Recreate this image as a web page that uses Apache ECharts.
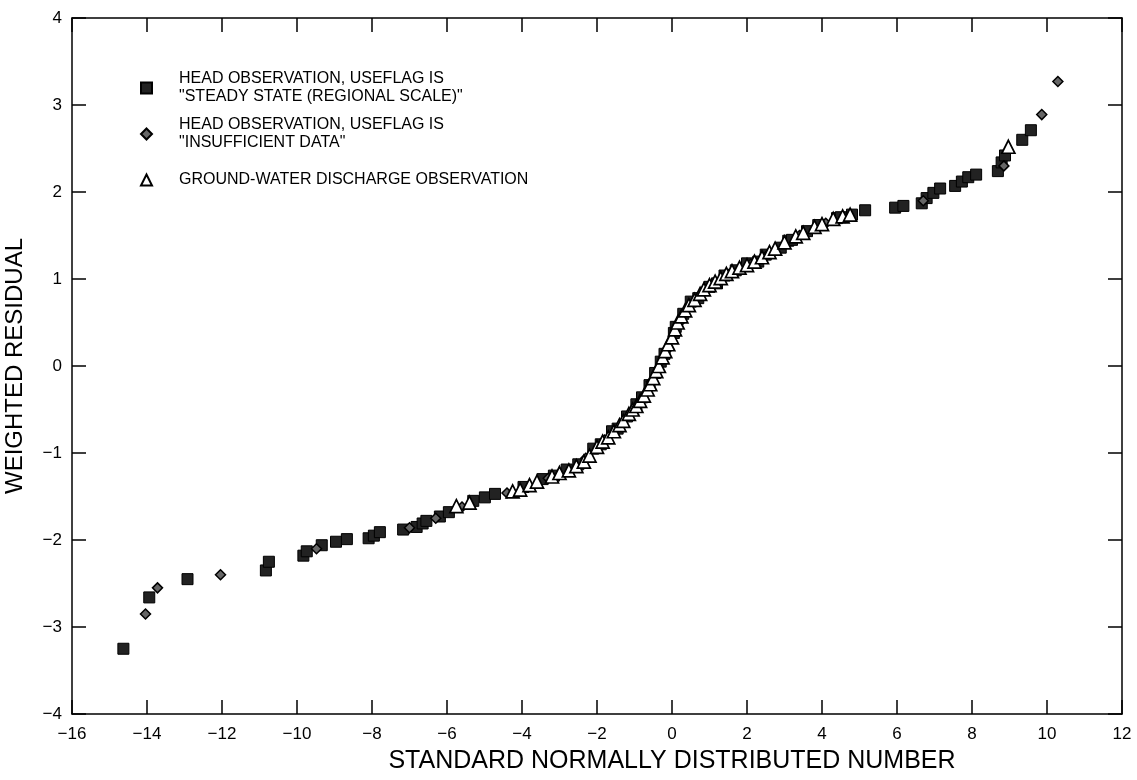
<!DOCTYPE html>
<html>
<head>
<meta charset="utf-8">
<title>Weighted residual vs standard normally distributed number</title>
<script src="https://cdn.jsdelivr.net/npm/echarts@6/dist/echarts.min.js"></script>
<style>
    html, body { margin: 0; padding: 0; background: #fff; }
    #chart { width: 1137px; height: 780px; }
</style>
</head>
<body>
<div id="chart"></div>
<script>
// 数据：估计值 [标准正态数, 加权残差]
var steadyState = [
    [-14.63, -3.25], [-13.94, -2.66], [-12.92, -2.45], [-10.83, -2.35], [-10.75, -2.25],
    [-9.83, -2.18], [-9.74, -2.13], [-9.34, -2.06], [-8.96, -2.02], [-8.67, -1.99],
    [-8.09, -1.98], [-7.95, -1.95], [-7.79, -1.91], [-7.17, -1.88], [-6.81, -1.85],
    [-6.65, -1.81], [-6.55, -1.78], [-6.19, -1.73], [-5.95, -1.68], [-5.30, -1.55],
    [-4.99, -1.51], [-4.72, -1.47], [-3.96, -1.39], [-3.45, -1.30], [-3.15, -1.26],
    [-2.81, -1.19], [-2.50, -1.13], [-2.10, -0.95], [-1.90, -0.90], [-1.60, -0.75],
    [-1.45, -0.72], [-1.20, -0.58], [-0.95, -0.44], [-0.80, -0.36], [-0.60, -0.22],
    [-0.45, -0.08], [-0.30, 0.05], [-0.20, 0.14], [0.05, 0.38], [0.10, 0.45],
    [0.30, 0.60], [0.50, 0.74], [0.70, 0.78], [1.00, 0.91], [1.20, 0.95],
    [1.40, 1.04], [1.70, 1.10], [2.00, 1.18], [2.30, 1.20], [2.50, 1.28],
    [2.90, 1.36], [3.10, 1.44], [3.20, 1.45], [3.60, 1.55], [3.90, 1.62],
    [4.40, 1.70], [4.50, 1.71], [4.80, 1.74], [5.15, 1.79], [5.95, 1.82],
    [6.17, 1.84], [6.66, 1.87], [6.79, 1.93], [6.97, 1.99], [7.15, 2.04],
    [7.55, 2.07], [7.73, 2.12], [7.90, 2.17], [8.11, 2.20], [8.69, 2.24],
    [8.79, 2.34], [8.88, 2.42], [9.34, 2.60], [9.57, 2.71]
];
var insufficientData = [
    [-14.04, -2.85], [-13.72, -2.55], [-12.04, -2.40], [-9.48, -2.10], [-7.00, -1.86],
    [-6.30, -1.75], [-5.60, -1.62], [-4.40, -1.46], [-3.30, -1.29], [-2.30, -1.06],
    [-1.80, -0.85], [-1.00, -0.50], [-0.55, -0.18], [-0.10, 0.20], [0.20, 0.50],
    [0.90, 0.88], [1.50, 1.05], [2.10, 1.17], [2.60, 1.30], [3.40, 1.50],
    [4.10, 1.64], [6.70, 1.90], [8.85, 2.30], [9.86, 2.89], [10.29, 3.27]
];
var dischargeObs = [
    [-5.75, -1.61], [-5.40, -1.57], [-4.25, -1.44], [-4.05, -1.42], [-3.80, -1.37],
    [-3.60, -1.33], [-3.20, -1.27], [-3.00, -1.23], [-2.75, -1.20], [-2.55, -1.15],
    [-2.35, -1.10], [-2.20, -1.03], [-2.00, -0.93], [-1.85, -0.87], [-1.70, -0.82],
    [-1.55, -0.75], [-1.40, -0.68], [-1.30, -0.63], [-1.15, -0.55], [-1.05, -0.50],
    [-0.95, -0.46], [-0.85, -0.40], [-0.75, -0.34], [-0.65, -0.27], [-0.58, -0.21],
    [-0.50, -0.14], [-0.42, -0.06], [-0.35, 0.00], [-0.25, 0.10], [-0.18, 0.17],
    [-0.10, 0.25], [0.00, 0.33], [0.08, 0.42], [0.15, 0.50], [0.25, 0.57],
    [0.35, 0.64], [0.45, 0.70], [0.60, 0.76], [0.75, 0.83], [0.85, 0.88],
    [1.00, 0.93], [1.15, 0.97], [1.30, 1.01], [1.45, 1.06], [1.60, 1.09],
    [1.80, 1.13], [2.00, 1.16], [2.20, 1.20], [2.40, 1.25], [2.60, 1.31],
    [2.75, 1.35], [3.00, 1.42], [3.30, 1.49], [3.50, 1.53], [3.80, 1.60],
    [4.00, 1.63], [4.30, 1.69], [4.55, 1.72], [4.75, 1.74], [8.97, 2.52]
];
var seriesNames = [
    'HEAD OBSERVATION, USEFLAG IS\n"STEADY STATE (REGIONAL SCALE)"',
    'HEAD OBSERVATION, USEFLAG IS\n"INSUFFICIENT DATA"',
    'GROUND-WATER DISCHARGE OBSERVATION'
];
var xRange = [-16, 12, 2]; // min, max, interval
var yRange = [-4, 4, 1];

var FONT = '"Liberation Sans", Arial, Helvetica, sans-serif';

function minus(v) { // 用真正的减号
    return String(v).replace('-', '\u2212');
}

var chart = echarts.init(document.getElementById('chart'));

var tickStyle = { inside: true, length: 14, lineStyle: { color: '#000', width: 1.5 } };
var lineStyle = { show: true, onZero: false, lineStyle: { color: '#000', width: 1.5 } };

var option = {
    backgroundColor: '#fff',
    animation: false,
    grid: { left: 72, right: 15, top: 18, bottom: 66, outerBoundsMode: 'none' },
    legend: {
        orient: 'vertical',
        left: 140,
        top: 61,
        padding: 0,
        itemGap: -8,
        itemWidth: 11,
        itemHeight: 11,
        textStyle: { fontFamily: FONT, fontSize: 16, color: '#000', lineHeight: 18 },
        data: [
            { name: seriesNames[0], icon: 'rect', textStyle: { padding: [18, 0, 0, 22] } },
            { name: seriesNames[1], icon: 'diamond', textStyle: { padding: [18, 0, 0, 22] } },
            { name: seriesNames[2], icon: 'triangle', textStyle: { padding: [18, 0, 18, 22] } }
        ]
    },
    xAxis: [{
        type: 'value',
        min: xRange[0], max: xRange[1], interval: xRange[2],
        name: 'STANDARD NORMALLY DISTRIBUTED NUMBER',
        nameLocation: 'middle',
        nameGap: 35,
        // 标题在原图中居中于 0 附近，向右推一点
        nameTextStyle: { fontFamily: FONT, fontSize: 25, color: '#000', padding: [0, 0, 0, 150] },
        axisLine: lineStyle,
        axisTick: tickStyle,
        axisLabel: { fontFamily: FONT, fontSize: 17, color: '#000', margin: 12, formatter: minus },
        splitLine: { show: false }
    }, {
        type: 'value',
        position: 'top',
        min: xRange[0], max: xRange[1], interval: xRange[2],
        axisLine: lineStyle,
        axisTick: tickStyle,
        axisLabel: { show: false },
        splitLine: { show: false }
    }],
    yAxis: [{
        type: 'value',
        min: yRange[0], max: yRange[1], interval: yRange[2],
        name: 'WEIGHTED RESIDUAL',
        nameLocation: 'middle',
        nameGap: 45,
        nameTextStyle: { fontFamily: FONT, fontSize: 24, color: '#000' },
        axisLine: lineStyle,
        axisTick: tickStyle,
        axisLabel: { fontFamily: FONT, fontSize: 17, color: '#000', margin: 10, formatter: minus },
        splitLine: { show: false }
    }, {
        type: 'value',
        position: 'right',
        min: yRange[0], max: yRange[1], interval: yRange[2],
        axisLine: lineStyle,
        axisTick: tickStyle,
        axisLabel: { show: false },
        splitLine: { show: false }
    }],
    series: [{
        name: seriesNames[0],
        type: 'scatter',
        symbol: 'rect',
        symbolSize: 11,
        itemStyle: { color: '#222', borderColor: '#000', borderWidth: 1, opacity: 1 },
        data: steadyState,
        z: 2
    }, {
        name: seriesNames[1],
        type: 'scatter',
        symbol: 'diamond',
        symbolSize: 10,
        itemStyle: { color: '#666', borderColor: '#000', borderWidth: 1.5, opacity: 1 },
        data: insufficientData,
        z: 3
    }, {
        name: seriesNames[2],
        type: 'scatter',
        symbol: 'triangle',
        symbolSize: 13,
        itemStyle: { color: '#fff', borderColor: '#000', borderWidth: 1.7, opacity: 1 },
        data: dischargeObs,
        z: 4
    }]
};

chart.setOption(option);
</script>
</body>
</html>
